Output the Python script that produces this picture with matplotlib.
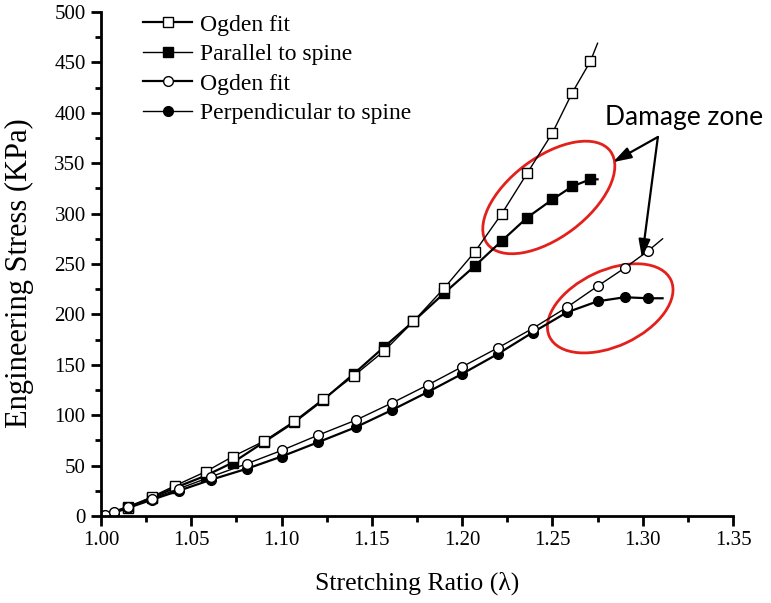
import matplotlib
matplotlib.use('Agg')
import matplotlib.pyplot as plt
import matplotlib.transforms as mtransforms
from matplotlib.patches import Ellipse
from matplotlib.ticker import MultipleLocator

# marker positions
sq_x = [1.000, 1.015, 1.028, 1.041, 1.058, 1.073, 1.090, 1.107, 1.123, 1.140,
        1.157, 1.173, 1.190, 1.207, 1.222, 1.236, 1.250, 1.261, 1.271]
ogden_par_y = [0, 8, 19, 30, 44, 59, 74, 94, 116, 139,
               164, 193, 226, 262, 300, 340, 380, 420, 451]
par_y = [0, 9, 18, 28, 40, 53, 73, 93, 115, 141,
         168, 193, 221, 248, 273, 296, 314, 327, 334]
ogden_par_end = (1.275, 469)
par_end = (1.275, 334)

circ_x = [1.002, 1.007, 1.015, 1.028, 1.043, 1.061, 1.081, 1.100, 1.120, 1.141,
          1.161, 1.181, 1.200, 1.220, 1.239, 1.258, 1.275, 1.290, 1.303]
ogden_perp_y = [1, 4, 9, 17, 27, 39, 52, 65, 80, 95,
                112, 130, 148, 167, 186, 207, 228, 246, 263]
perp_y = [0, 3, 8, 16, 25, 36, 47, 59, 73, 88,
          105, 123, 141, 161, 182, 202, 213, 217, 216]
ogden_perp_end = (1.311, 275)
perp_end = (1.311, 216)

x_ticks = [1.00, 1.05, 1.10, 1.15, 1.20, 1.25, 1.30, 1.35]
y_ticks = [0, 50, 100, 150, 200, 250, 300, 350, 400, 450, 500]

# damage zones: centre (data), size in inches, angle
zones = [((1.248, 316), 1.54, 0.80, 37), ((1.282, 206), 1.34, 0.76, 25)]
arrow_start = (1.3084, 376)
arrow_tips = [(1.2835, 351), (1.2996, 256)]

plt.rcParams['font.family'] = ['Liberation Serif', 'DejaVu Serif']

fig = plt.figure(figsize=(7.71, 6.03), dpi=100)
ax = fig.add_axes([0.131, 0.1443, 0.8197, 0.8358])


def with_end(xs, ys, end):
    return list(xs) + [end[0]], list(ys) + [end[1]]


n = len(sq_x)
x, y = with_end(sq_x, par_y, par_end)
ax.plot(x, y, '-', color='black', lw=1.6, marker='s', ms=6.5,
        mfc='black', mec='black', markevery=list(range(n)))
x, y = with_end(sq_x, ogden_par_y, ogden_par_end)
ax.plot(x, y, '-', color='black', lw=1.0, marker='s', ms=6.5,
        mfc='white', mec='black', mew=1.0, markevery=list(range(n)))

n = len(circ_x)
x, y = with_end(circ_x, perp_y, perp_end)
ax.plot(x, y, '-', color='black', lw=1.6, marker='o', ms=7,
        mfc='black', mec='black', markevery=list(range(n)))
x, y = with_end(circ_x, ogden_perp_y, ogden_perp_end)
ax.plot(x, y, '-', color='black', lw=1.0, marker='o', ms=7,
        mfc='white', mec='black', mew=1.0, markevery=list(range(n)))

# legend handles
handles = [
    plt.Line2D([], [], color='black', lw=1.6, marker='s', ms=6.5, mfc='white', mec='black'),
    plt.Line2D([], [], color='black', lw=1.0, marker='s', ms=6.5, mfc='black', mec='black'),
    plt.Line2D([], [], color='black', lw=1.6, marker='o', ms=7, mfc='white', mec='black'),
    plt.Line2D([], [], color='black', lw=1.0, marker='o', ms=7, mfc='black', mec='black'),
]
labels = ['Ogden fit', 'Parallel to spine', 'Ogden fit', 'Perpendicular to spine']
ax.legend(handles, labels, loc='upper left', bbox_to_anchor=(0.066, 0.996),
          frameon=False, fontsize=17, handlelength=2.1, handletextpad=0.34,
          labelspacing=0.34, borderpad=0, borderaxespad=0)

for (cx, cy), w, h, ang in zones:
    trans = fig.dpi_scale_trans + mtransforms.ScaledTranslation(cx, cy, ax.transData)
    ax.add_patch(Ellipse((0, 0), w, h, angle=ang, transform=trans, fill=False,
                         edgecolor='#e3211c', lw=2.0, clip_on=False))

for tip in arrow_tips:
    ax.annotate('', xy=tip, xytext=arrow_start,
                arrowprops=dict(arrowstyle='-|>,head_length=1.1,head_width=0.35',
                                color='black', lw=1.6, shrinkA=0, shrinkB=0))
ax.text(1.279, 388, 'Damage zone', fontsize=19, family=['Lato', 'DejaVu Sans'],
        ha='left', va='baseline')

ax.set_xlim(1.00, 1.35)
ax.set_ylim(0, 500)
ax.set_xticks(x_ticks)
ax.set_xticklabels(['%.2f' % v for v in x_ticks])
ax.set_yticks(y_ticks)
ax.xaxis.set_minor_locator(MultipleLocator(0.025))
ax.yaxis.set_minor_locator(MultipleLocator(25))
ax.tick_params(which='major', direction='out', length=7, width=2, labelsize=15, pad=4)
ax.tick_params(which='minor', direction='out', length=4, width=2)
for side in ['top', 'right']:
    ax.spines[side].set_visible(False)
for side in ['left', 'bottom']:
    ax.spines[side].set_linewidth(2)

ax.set_xlabel('Stretching Ratio (λ)', fontsize=18.5, labelpad=15)
ax.set_ylabel('Engineering Stress (KPa)', fontsize=22)
ax.yaxis.set_label_coords(-0.106, 0.482)

fig.savefig('out.png', dpi=100)
